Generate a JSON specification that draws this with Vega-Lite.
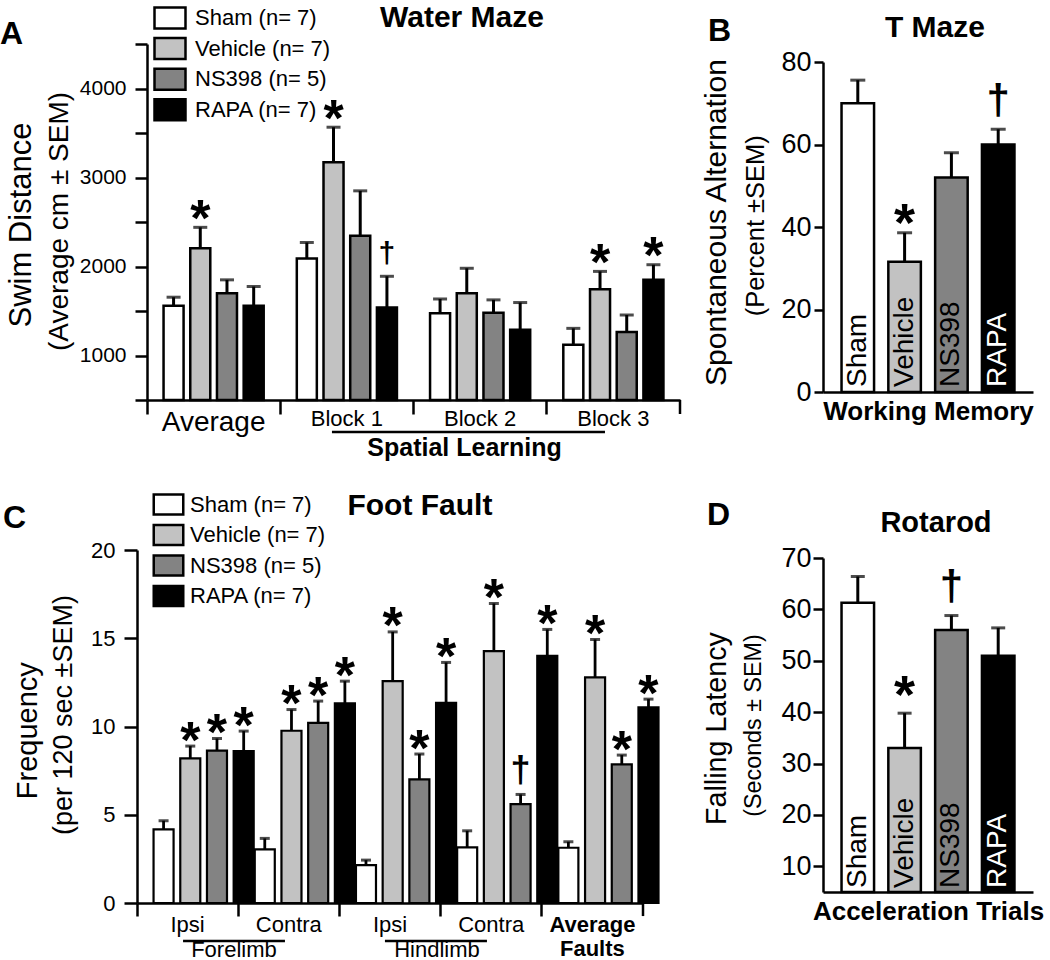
{
  "$schema": "https://vega.github.io/schema/vega-lite/v6.json",
  "padding": {"top": 2, "left": 0, "right": 0, "bottom": 0},
  "background": "white",
  "config": {
    "font": "Liberation Sans",
    "view": {"stroke": null},
    "axis": {"domainColor": "black", "tickColor": "black", "labelColor": "black", "titleColor": "black", "labelFont": "Liberation Sans", "titleFont": "Liberation Sans", "grid": false},
    "legend": {"labelFont": "Liberation Sans", "labelColor": "black"}
  },
  "datasets": {
    "maze": [
      {"group": "Average", "treatment": "Sham", "mean": 1560, "upper": 1655, "sig": ""},
      {"group": "Average", "treatment": "Vehicle", "mean": 2205, "upper": 2440, "sig": "*"},
      {"group": "Average", "treatment": "NS398", "mean": 1700, "upper": 1850, "sig": ""},
      {"group": "Average", "treatment": "RAPA", "mean": 1560, "upper": 1775, "sig": ""},
      {"group": "Block 1", "treatment": "Sham", "mean": 2090, "upper": 2270, "sig": ""},
      {"group": "Block 1", "treatment": "Vehicle", "mean": 3170, "upper": 3565, "sig": "*"},
      {"group": "Block 1", "treatment": "NS398", "mean": 2345, "upper": 2850, "sig": ""},
      {"group": "Block 1", "treatment": "RAPA", "mean": 1540, "upper": 1890, "sig": "†"},
      {"group": "Block 2", "treatment": "Sham", "mean": 1475, "upper": 1635, "sig": ""},
      {"group": "Block 2", "treatment": "Vehicle", "mean": 1700, "upper": 1980, "sig": ""},
      {"group": "Block 2", "treatment": "NS398", "mean": 1480, "upper": 1625, "sig": ""},
      {"group": "Block 2", "treatment": "RAPA", "mean": 1290, "upper": 1595, "sig": ""},
      {"group": "Block 3", "treatment": "Sham", "mean": 1120, "upper": 1305, "sig": ""},
      {"group": "Block 3", "treatment": "Vehicle", "mean": 1745, "upper": 1945, "sig": "*"},
      {"group": "Block 3", "treatment": "NS398", "mean": 1265, "upper": 1455, "sig": ""},
      {"group": "Block 3", "treatment": "RAPA", "mean": 1850, "upper": 2020, "sig": "*"}
    ],
    "tmaze": [
      {"treatment": "Sham", "mean": 70, "upper": 75.6, "sig": ""},
      {"treatment": "Vehicle", "mean": 31.6, "upper": 38.6, "sig": "*"},
      {"treatment": "NS398", "mean": 52, "upper": 58, "sig": ""},
      {"treatment": "RAPA", "mean": 60, "upper": 63.7, "sig": "†"}
    ],
    "foot": [
      {"group": "Fore Ipsi", "treatment": "Sham", "mean": 4.17, "upper": 4.66, "sig": ""},
      {"group": "Fore Ipsi", "treatment": "Vehicle", "mean": 8.19, "upper": 8.89, "sig": "*"},
      {"group": "Fore Ipsi", "treatment": "NS398", "mean": 8.63, "upper": 9.32, "sig": "*"},
      {"group": "Fore Ipsi", "treatment": "RAPA", "mean": 8.6, "upper": 9.74, "sig": "*"},
      {"group": "Fore Contra", "treatment": "Sham", "mean": 3.04, "upper": 3.66, "sig": ""},
      {"group": "Fore Contra", "treatment": "Vehicle", "mean": 9.76, "upper": 10.96, "sig": "*"},
      {"group": "Fore Contra", "treatment": "NS398", "mean": 10.21, "upper": 11.44, "sig": "*"},
      {"group": "Fore Contra", "treatment": "RAPA", "mean": 11.31, "upper": 12.57, "sig": "*"},
      {"group": "Hind Ipsi", "treatment": "Sham", "mean": 2.15, "upper": 2.43, "sig": ""},
      {"group": "Hind Ipsi", "treatment": "Vehicle", "mean": 12.57, "upper": 15.36, "sig": "*"},
      {"group": "Hind Ipsi", "treatment": "NS398", "mean": 7.0, "upper": 8.44, "sig": "*"},
      {"group": "Hind Ipsi", "treatment": "RAPA", "mean": 11.34, "upper": 13.63, "sig": "*"},
      {"group": "Hind Contra", "treatment": "Sham", "mean": 3.15, "upper": 4.09, "sig": ""},
      {"group": "Hind Contra", "treatment": "Vehicle", "mean": 14.27, "upper": 16.97, "sig": "*"},
      {"group": "Hind Contra", "treatment": "NS398", "mean": 5.6, "upper": 6.15, "sig": "†"},
      {"group": "Hind Contra", "treatment": "RAPA", "mean": 14.0, "upper": 15.5, "sig": "*"},
      {"group": "Average Faults", "treatment": "Sham", "mean": 3.13, "upper": 3.47, "sig": ""},
      {"group": "Average Faults", "treatment": "Vehicle", "mean": 12.78, "upper": 14.93, "sig": "*"},
      {"group": "Average Faults", "treatment": "NS398", "mean": 7.85, "upper": 8.38, "sig": "*"},
      {"group": "Average Faults", "treatment": "RAPA", "mean": 11.08, "upper": 11.55, "sig": "*"}
    ],
    "rotarod": [
      {"treatment": "Sham", "mean": 61.3, "upper": 66.4, "sig": ""},
      {"treatment": "Vehicle", "mean": 33, "upper": 39.8, "sig": "*"},
      {"treatment": "NS398", "mean": 56, "upper": 58.8, "sig": "†"},
      {"treatment": "RAPA", "mean": 51, "upper": 56.4, "sig": ""}
    ]
  },
  "resolve": {"scale": {"fill": "independent"}, "legend": {"fill": "independent"}},
  "spacing": 20,
  "hconcat": [
    {
      "spacing": 30,
      "resolve": {"scale": {"fill": "independent"}, "legend": {"fill": "independent"}},
      "vconcat": [
        {
          "width": 533,
          "height": 356,
          "resolve": {"scale": {"x": "independent"}, "axis": {"x": "independent"}},
          "layer": [
            {
              "data": {"name": "maze"},
              "layer": [
                {
                  "mark": {"type": "bar", "stroke": "black", "strokeWidth": 2.5},
                  "encoding": {
                    "x": {"field": "group", "type": "nominal", "sort": ["Average", "Block 1", "Block 2", "Block 3"], "scale": {"paddingInner": 0, "paddingOuter": 0},
                      "axis": {"title": null, "bandPosition": 0, "tickSize": 14, "tickWidth": 2.5, "domainWidth": 2.5, "labelPadding": -6, "labelAngle": 0, "labelBaseline": "top", "labelFontSize": {"condition": {"test": "datum.value === 'Average'", "value": 28}, "value": 22}, "labelOverlap": false, "labelBound": false, "labelFlush": false}},
                    "xOffset": {"field": "treatment", "type": "nominal", "sort": ["Sham", "Vehicle", "NS398", "RAPA"], "scale": {"paddingInner": 0.25, "paddingOuter": 0.62}},
                    "y": {"field": "mean", "type": "quantitative", "scale": {"domain": [500, 4500], "nice": false, "zero": false},
                      "axis": {"title": null, "values": [500, 1000, 1500, 2000, 2500, 3000, 3500, 4000, 4500], "format": "d", "labelExpr": "datum.value % 1000 === 0 ? datum.label : ''", "tickSize": 12, "tickWidth": 2.5, "domainWidth": 2.5, "labelFontSize": 21, "labelPadding": 9}},
                    "y2": {"datum": 500},
                    "fill": {"field": "treatment", "type": "nominal", "sort": ["Sham", "Vehicle", "NS398", "RAPA"], "scale": {"domain": ["Sham", "Vehicle", "NS398", "RAPA"], "range": ["#ffffff", "#c2c2c2", "#838383", "#000000"]},
                      "legend": {"orient": "none", "legendX": 11, "legendY": -38, "title": null, "direction": "vertical", "symbolType": "M-1.476,-1H1.476V1H-1.476Z", "symbolSize": 441, "symbolStrokeColor": "black", "symbolStrokeWidth": 2.5, "symbolOpacity": 1, "labelFontSize": 22, "labelOffset": 13, "rowPadding": -1.4, "padding": 0, "labelExpr": "datum.label === 'NS398' ? 'NS398 (n= 5)' : datum.label + ' (n= 7)'"}}
                  }
                },
                {
                  "mark": {"type": "rule", "color": "black", "strokeWidth": 3},
                  "encoding": {
                    "x": {"field": "group", "type": "nominal", "sort": ["Average", "Block 1", "Block 2", "Block 3"], "title": null},
                    "xOffset": {"field": "treatment", "type": "nominal", "sort": ["Sham", "Vehicle", "NS398", "RAPA"]},
                    "y": {"field": "mean", "type": "quantitative", "title": null},
                    "y2": {"field": "upper"}
                  }
                },
                {
                  "mark": {"type": "tick", "color": "black", "thickness": 3, "size": 14},
                  "encoding": {
                    "x": {"field": "group", "type": "nominal", "sort": ["Average", "Block 1", "Block 2", "Block 3"], "title": null},
                    "xOffset": {"field": "treatment", "type": "nominal", "sort": ["Sham", "Vehicle", "NS398", "RAPA"]},
                    "y": {"field": "upper", "type": "quantitative", "title": null}
                  }
                },
                {
                  "transform": [{"filter": "datum.sig === '*'"}],
                  "mark": {"type": "text", "text": "*", "fontSize": 52, "fontWeight": "bold", "baseline": "alphabetic", "dy": 8.5, "color": "black"},
                  "encoding": {
                    "x": {"field": "group", "type": "nominal", "sort": ["Average", "Block 1", "Block 2", "Block 3"], "title": null},
                    "xOffset": {"field": "treatment", "type": "nominal", "sort": ["Sham", "Vehicle", "NS398", "RAPA"]},
                    "y": {"field": "upper", "type": "quantitative", "title": null}
                  }
                },
                {
                  "transform": [{"filter": "datum.sig === '†'"}],
                  "mark": {"type": "text", "text": "†", "fontSize": 30, "fontWeight": "bold", "baseline": "alphabetic", "dy": -13, "color": "black"},
                  "encoding": {
                    "x": {"field": "group", "type": "nominal", "sort": ["Average", "Block 1", "Block 2", "Block 3"], "title": null},
                    "xOffset": {"field": "treatment", "type": "nominal", "sort": ["Sham", "Vehicle", "NS398", "RAPA"]},
                    "y": {"field": "upper", "type": "quantitative", "title": null}
                  }
                }
              ]
            },
            {
              "data": {"values": [{}]},
              "layer": [
                {
                  "mark": {"type": "text", "text": "A", "fontSize": 32, "fontWeight": "bold", "align": "left", "baseline": "alphabetic", "clip": false, "color": "black"},
                  "encoding": {"x": {"datum": -1.103, "type": "quantitative", "scale": {"domain": [0, 4], "nice": false, "zero": false}, "axis": null}, "y": {"datum": 4500, "type": "quantitative", "title": null}}
                },
                {
                  "mark": {"type": "text", "text": "Water Maze", "fontSize": 30, "fontWeight": "bold", "align": "center", "baseline": "alphabetic", "clip": false, "color": "black"},
                  "encoding": {"x": {"datum": 2.364, "type": "quantitative", "scale": {"domain": [0, 4], "nice": false, "zero": false}, "axis": null}, "y": {"datum": 4694, "type": "quantitative", "title": null}}
                },
                {
                  "mark": {"type": "text", "text": "Spatial Learning", "fontSize": 25, "fontWeight": "bold", "align": "center", "baseline": "alphabetic", "clip": false, "color": "black"},
                  "encoding": {"x": {"datum": 2.383, "type": "quantitative", "scale": {"domain": [0, 4], "nice": false, "zero": false}, "axis": null}, "y": {"datum": -129, "type": "quantitative", "title": null}}
                },
                {
                  "mark": {"type": "rule", "color": "black", "strokeWidth": 2.5, "clip": false},
                  "encoding": {"x": {"datum": 1.388, "type": "quantitative", "scale": {"domain": [0, 4], "nice": false, "zero": false}, "axis": null}, "x2": {"datum": 3.437}, "y": {"datum": 140, "type": "quantitative", "title": null}}
                },
                {
                  "mark": {"type": "rule", "color": "black", "strokeWidth": 2.5, "clip": false},
                  "encoding": {"x": {"datum": 4, "type": "quantitative", "scale": {"domain": [0, 4], "nice": false, "zero": false}, "axis": null}, "y": {"datum": 500, "type": "quantitative", "title": null}, "y2": {"datum": 343}}
                },
                {
                  "mark": {"type": "text", "text": "Swim Distance", "fontSize": 31, "angle": 270, "align": "center", "baseline": "middle", "clip": false, "color": "black"},
                  "encoding": {"x": {"datum": -0.94, "type": "quantitative", "scale": {"domain": [0, 4], "nice": false, "zero": false}, "axis": null}, "y": {"datum": 2466, "type": "quantitative", "title": null}}
                },
                {
                  "mark": {"type": "text", "text": "(Average cm ± SEM)", "fontSize": 28, "angle": 270, "align": "center", "baseline": "middle", "clip": false, "color": "black"},
                  "encoding": {"x": {"datum": -0.656, "type": "quantitative", "scale": {"domain": [0, 4], "nice": false, "zero": false}, "axis": null}, "y": {"datum": 2506, "type": "quantitative", "title": null}}
                }
              ]
            }
          ]
        },
        {
          "width": 496,
          "height": 353,
          "resolve": {"scale": {"x": "independent"}, "axis": {"x": "independent"}},
          "layer": [
            {
              "data": {"name": "foot"},
              "layer": [
                {
                  "mark": {"type": "bar", "stroke": "black", "strokeWidth": 2.2},
                  "encoding": {
                    "x": {"field": "group", "type": "nominal", "sort": ["Fore Ipsi", "Fore Contra", "Hind Ipsi", "Hind Contra", "Average Faults"], "scale": {"paddingInner": 0, "paddingOuter": 0, "range": [-10, 496]},
                      "axis": {"title": null, "bandPosition": 0, "tickSize": 13, "tickWidth": 2.5, "domainWidth": 2.5, "labelPadding": -2, "labelAngle": 0, "labelBaseline": "top", "labelFontSize": 22, "labelLineHeight": 24, "labelExpr": "datum.value === 'Average Faults' ? ['Average', 'Faults'] : split(datum.value, ' ')[1]", "labelFontWeight": {"condition": {"test": "datum.value === 'Average Faults'", "value": "bold"}, "value": "normal"}, "labelOverlap": false, "labelBound": false, "labelFlush": false}},
                    "xOffset": {"field": "treatment", "type": "nominal", "sort": ["Sham", "Vehicle", "NS398", "RAPA"], "scale": {"paddingInner": 0.25, "paddingOuter": 0.62}},
                    "y": {"field": "mean", "type": "quantitative", "scale": {"domain": [0, 20], "nice": false},
                      "axis": {"title": null, "values": [0, 5, 10, 15, 20], "tickSize": 13, "tickWidth": 2.5, "domainWidth": 2.5, "labelFontSize": 22, "labelPadding": 9, "offset": 10}},
                    "y2": {"datum": 0},
                    "fill": {"field": "treatment", "type": "nominal", "sort": ["Sham", "Vehicle", "NS398", "RAPA"], "scale": {"domain": ["Sham", "Vehicle", "NS398", "RAPA"], "range": ["#ffffff", "#c2c2c2", "#838383", "#000000"]},
                      "legend": {"orient": "none", "legendX": 10, "legendY": -57, "title": null, "direction": "vertical", "symbolType": "M-1.476,-1H1.476V1H-1.476Z", "symbolSize": 400, "symbolStrokeColor": "black", "symbolStrokeWidth": 2.5, "symbolOpacity": 1, "labelFontSize": 22, "labelOffset": 10, "rowPadding": -0.5, "padding": 0, "labelExpr": "datum.label === 'NS398' ? 'NS398 (n= 5)' : datum.label + ' (n= 7)'"}}
                  }
                },
                {
                  "mark": {"type": "rule", "color": "black", "strokeWidth": 2.8},
                  "encoding": {
                    "x": {"field": "group", "type": "nominal", "sort": ["Fore Ipsi", "Fore Contra", "Hind Ipsi", "Hind Contra", "Average Faults"], "title": null},
                    "xOffset": {"field": "treatment", "type": "nominal", "sort": ["Sham", "Vehicle", "NS398", "RAPA"]},
                    "y": {"field": "mean", "type": "quantitative", "title": null},
                    "y2": {"field": "upper"}
                  }
                },
                {
                  "mark": {"type": "tick", "color": "black", "thickness": 3, "size": 10},
                  "encoding": {
                    "x": {"field": "group", "type": "nominal", "sort": ["Fore Ipsi", "Fore Contra", "Hind Ipsi", "Hind Contra", "Average Faults"], "title": null},
                    "xOffset": {"field": "treatment", "type": "nominal", "sort": ["Sham", "Vehicle", "NS398", "RAPA"]},
                    "y": {"field": "upper", "type": "quantitative", "title": null}
                  }
                },
                {
                  "transform": [{"filter": "datum.sig === '*'"}],
                  "mark": {"type": "text", "text": "*", "fontSize": 52, "fontWeight": "bold", "baseline": "alphabetic", "dy": 11.5, "color": "black"},
                  "encoding": {
                    "x": {"field": "group", "type": "nominal", "sort": ["Fore Ipsi", "Fore Contra", "Hind Ipsi", "Hind Contra", "Average Faults"], "title": null},
                    "xOffset": {"field": "treatment", "type": "nominal", "sort": ["Sham", "Vehicle", "NS398", "RAPA"]},
                    "y": {"field": "upper", "type": "quantitative", "title": null}
                  }
                },
                {
                  "transform": [{"filter": "datum.sig === '†'"}],
                  "mark": {"type": "text", "text": "†", "fontSize": 36, "fontWeight": "bold", "baseline": "alphabetic", "dy": -12.5, "color": "black"},
                  "encoding": {
                    "x": {"field": "group", "type": "nominal", "sort": ["Fore Ipsi", "Fore Contra", "Hind Ipsi", "Hind Contra", "Average Faults"], "title": null},
                    "xOffset": {"field": "treatment", "type": "nominal", "sort": ["Sham", "Vehicle", "NS398", "RAPA"]},
                    "y": {"field": "upper", "type": "quantitative", "title": null}
                  }
                }
              ]
            },
            {
              "data": {"values": [{}]},
              "layer": [
                {
                  "mark": {"type": "text", "text": "C", "fontSize": 32, "fontWeight": "bold", "align": "left", "baseline": "alphabetic", "clip": false, "color": "black"},
                  "encoding": {"x": {"datum": -1.324, "type": "quantitative", "scale": {"domain": [0, 5], "range": [-10, 496], "nice": false, "zero": false}, "axis": null}, "y": {"datum": 21.25, "type": "quantitative", "title": null}}
                },
                {
                  "mark": {"type": "text", "text": "Foot Fault", "fontSize": 30, "fontWeight": "bold", "align": "center", "baseline": "alphabetic", "clip": false, "color": "black"},
                  "encoding": {"x": {"datum": 2.796, "type": "quantitative", "scale": {"domain": [0, 5], "range": [-10, 496], "nice": false, "zero": false}, "axis": null}, "y": {"datum": 21.98, "type": "quantitative", "title": null}}
                },
                {
                  "mark": {"type": "rule", "color": "black", "strokeWidth": 2.5, "clip": false},
                  "encoding": {"x": {"datum": 0.455, "type": "quantitative", "scale": {"domain": [0, 5], "range": [-10, 496], "nice": false, "zero": false}, "axis": null}, "x2": {"datum": 1.462}, "y": {"datum": -2.15, "type": "quantitative", "title": null}}
                },
                {
                  "mark": {"type": "rule", "color": "black", "strokeWidth": 2.5, "clip": false},
                  "encoding": {"x": {"datum": 2.45, "type": "quantitative", "scale": {"domain": [0, 5], "range": [-10, 496], "nice": false, "zero": false}, "axis": null}, "x2": {"datum": 3.458}, "y": {"datum": -2.15, "type": "quantitative", "title": null}}
                },
                {
                  "mark": {"type": "text", "text": "Forelimb", "fontSize": 22, "align": "center", "baseline": "alphabetic", "clip": false, "color": "black"},
                  "encoding": {"x": {"datum": 0.958, "type": "quantitative", "scale": {"domain": [0, 5], "range": [-10, 496], "nice": false, "zero": false}, "axis": null}, "y": {"datum": -3.05, "type": "quantitative", "title": null}}
                },
                {
                  "mark": {"type": "text", "text": "Hindlimb", "fontSize": 22, "align": "center", "baseline": "alphabetic", "clip": false, "color": "black"},
                  "encoding": {"x": {"datum": 2.964, "type": "quantitative", "scale": {"domain": [0, 5], "range": [-10, 496], "nice": false, "zero": false}, "axis": null}, "y": {"datum": -3.05, "type": "quantitative", "title": null}}
                },
                {
                  "mark": {"type": "rule", "color": "black", "strokeWidth": 2.5, "clip": false},
                  "encoding": {"x": {"datum": 5, "type": "quantitative", "scale": {"domain": [0, 5], "range": [-10, 496], "nice": false, "zero": false}, "axis": null}, "y": {"datum": 0, "type": "quantitative", "title": null}, "y2": {"datum": -0.74}}
                },
                {
                  "mark": {"type": "text", "text": "Frequency", "fontSize": 29, "angle": 270, "align": "center", "baseline": "middle", "clip": false, "color": "black"},
                  "encoding": {"x": {"datum": -1.077, "type": "quantitative", "scale": {"domain": [0, 5], "range": [-10, 496], "nice": false, "zero": false}, "axis": null}, "y": {"datum": 9.76, "type": "quantitative", "title": null}}
                },
                {
                  "mark": {"type": "text", "text": "(per 120 sec ±SEM)", "fontSize": 27, "angle": 270, "align": "center", "baseline": "middle", "clip": false, "color": "black"},
                  "encoding": {"x": {"datum": -0.721, "type": "quantitative", "scale": {"domain": [0, 5], "range": [-10, 496], "nice": false, "zero": false}, "axis": null}, "y": {"datum": 10.65, "type": "quantitative", "title": null}}
                }
              ]
            }
          ]
        }
      ]
    },
    {
      "spacing": 75,
      "resolve": {"scale": {"fill": "independent"}, "legend": {"fill": "independent"}},
      "vconcat": [
        {
          "width": 210,
          "height": 348,
          "resolve": {"scale": {"x": "independent"}, "axis": {"x": "independent"}},
          "layer": [
            {
              "data": {"name": "tmaze"},
              "layer": [
                {
                  "mark": {"type": "bar", "stroke": "black", "strokeWidth": 2.5},
                  "encoding": {
                    "x": {"field": "treatment", "type": "nominal", "sort": ["Sham", "Vehicle", "NS398", "RAPA"], "title": "Working Memory", "scale": {"paddingInner": 0.305, "paddingOuter": 0.396},
                      "axis": {"labels": false, "ticks": false, "title": "Working Memory", "titleFontSize": 26, "titleFontWeight": "bold", "titlePadding": 6, "domainWidth": 2.5}},
                    "y": {"field": "mean", "type": "quantitative", "scale": {"domain": [0, 80], "range": [348, 18], "nice": false},
                      "axis": {"title": null, "values": [0, 20, 40, 60, 80], "tickSize": 9, "tickWidth": 2.5, "domainWidth": 2.5, "labelFontSize": 27, "labelPadding": 3}},
                    "y2": {"datum": 0},
                    "fill": {"field": "treatment", "type": "nominal", "scale": {"domain": ["Sham", "Vehicle", "NS398", "RAPA"], "range": ["#ffffff", "#c2c2c2", "#838383", "#000000"]}, "legend": null}
                  }
                },
                {
                  "mark": {"type": "rule", "color": "black", "strokeWidth": 3},
                  "encoding": {
                    "x": {"field": "treatment", "type": "nominal", "sort": ["Sham", "Vehicle", "NS398", "RAPA"], "title": "Working Memory"},
                    "y": {"field": "mean", "type": "quantitative", "title": null},
                    "y2": {"field": "upper"}
                  }
                },
                {
                  "mark": {"type": "tick", "color": "black", "thickness": 3, "size": 15},
                  "encoding": {
                    "x": {"field": "treatment", "type": "nominal", "sort": ["Sham", "Vehicle", "NS398", "RAPA"], "title": "Working Memory"},
                    "y": {"field": "upper", "type": "quantitative", "title": null}
                  }
                },
                {
                  "transform": [{"filter": "datum.sig === '*'"}],
                  "mark": {"type": "text", "text": "*", "fontSize": 54, "fontWeight": "bold", "baseline": "alphabetic", "dy": 8, "color": "black"},
                  "encoding": {
                    "x": {"field": "treatment", "type": "nominal", "sort": ["Sham", "Vehicle", "NS398", "RAPA"], "title": "Working Memory"},
                    "y": {"field": "upper", "type": "quantitative", "title": null}
                  }
                },
                {
                  "transform": [{"filter": "datum.sig === '†'"}],
                  "mark": {"type": "text", "text": "†", "fontSize": 42, "fontWeight": "bold", "baseline": "alphabetic", "dy": -15.5, "color": "black"},
                  "encoding": {
                    "x": {"field": "treatment", "type": "nominal", "sort": ["Sham", "Vehicle", "NS398", "RAPA"], "title": "Working Memory"},
                    "y": {"field": "upper", "type": "quantitative", "title": null}
                  }
                },
                {
                  "mark": {"type": "text", "angle": 270, "align": "left", "baseline": "middle", "dx": 5, "fontSize": 28},
                  "encoding": {
                    "x": {"field": "treatment", "type": "nominal", "sort": ["Sham", "Vehicle", "NS398", "RAPA"], "title": "Working Memory"},
                    "y": {"datum": 0, "type": "quantitative", "title": null},
                    "text": {"field": "treatment"},
                    "color": {"condition": {"test": "datum.treatment === 'RAPA'", "value": "white"}, "value": "black"}
                  }
                }
              ]
            },
            {
              "data": {"values": [{}]},
              "layer": [
                {
                  "mark": {"type": "text", "text": "B", "fontSize": 32, "fontWeight": "bold", "align": "left", "baseline": "alphabetic", "clip": false, "color": "black"},
                  "encoding": {"x": {"datum": -0.548, "type": "quantitative", "scale": {"domain": [0, 1], "nice": false, "zero": false}, "axis": null}, "y": {"datum": 85.1, "type": "quantitative", "title": null}}
                },
                {
                  "mark": {"type": "text", "text": "T Maze", "fontSize": 30, "fontWeight": "bold", "align": "center", "baseline": "alphabetic", "clip": false, "color": "black"},
                  "encoding": {"x": {"datum": 0.533, "type": "quantitative", "scale": {"domain": [0, 1], "nice": false, "zero": false}, "axis": null}, "y": {"datum": 86.0, "type": "quantitative", "title": null}}
                },
                {
                  "mark": {"type": "text", "text": "Spontaneous Alternation", "fontSize": 30, "angle": 270, "align": "center", "baseline": "middle", "clip": false, "color": "black"},
                  "encoding": {"x": {"datum": -0.503, "type": "quantitative", "scale": {"domain": [0, 1], "nice": false, "zero": false}, "axis": null}, "y": {"datum": 41.1, "type": "quantitative", "title": null}}
                },
                {
                  "mark": {"type": "text", "text": "(Percent ±SEM)", "fontSize": 25.5, "angle": 270, "align": "center", "baseline": "middle", "clip": false, "color": "black"},
                  "encoding": {"x": {"datum": -0.321, "type": "quantitative", "scale": {"domain": [0, 1], "nice": false, "zero": false}, "axis": null}, "y": {"datum": 40.3, "type": "quantitative", "title": null}}
                }
              ]
            }
          ]
        },
        {
          "width": 210,
          "height": 334,
          "resolve": {"scale": {"x": "independent"}, "axis": {"x": "independent"}},
          "layer": [
            {
              "data": {"name": "rotarod"},
              "layer": [
                {
                  "mark": {"type": "bar", "stroke": "black", "strokeWidth": 2.5},
                  "encoding": {
                    "x": {"field": "treatment", "type": "nominal", "sort": ["Sham", "Vehicle", "NS398", "RAPA"], "title": "Acceleration Trials", "scale": {"paddingInner": 0.305, "paddingOuter": 0.396},
                      "axis": {"labels": false, "ticks": false, "title": "Acceleration Trials", "titleFontSize": 26, "titleFontWeight": "bold", "titlePadding": 6, "domainWidth": 2.5}},
                    "y": {"field": "mean", "type": "quantitative", "scale": {"domain": [5, 70], "nice": false, "zero": false},
                      "axis": {"title": null, "values": [10, 20, 30, 40, 50, 60, 70], "tickSize": 10, "tickWidth": 2.5, "domainWidth": 2.5, "labelFontSize": 27, "labelPadding": 2}},
                    "y2": {"datum": 5},
                    "fill": {"field": "treatment", "type": "nominal", "scale": {"domain": ["Sham", "Vehicle", "NS398", "RAPA"], "range": ["#ffffff", "#c2c2c2", "#838383", "#000000"]}, "legend": null}
                  }
                },
                {
                  "mark": {"type": "rule", "color": "black", "strokeWidth": 3},
                  "encoding": {
                    "x": {"field": "treatment", "type": "nominal", "sort": ["Sham", "Vehicle", "NS398", "RAPA"], "title": "Acceleration Trials"},
                    "y": {"field": "mean", "type": "quantitative", "title": null},
                    "y2": {"field": "upper"}
                  }
                },
                {
                  "mark": {"type": "tick", "color": "black", "thickness": 3, "size": 14},
                  "encoding": {
                    "x": {"field": "treatment", "type": "nominal", "sort": ["Sham", "Vehicle", "NS398", "RAPA"], "title": "Acceleration Trials"},
                    "y": {"field": "upper", "type": "quantitative", "title": null}
                  }
                },
                {
                  "transform": [{"filter": "datum.sig === '*'"}],
                  "mark": {"type": "text", "text": "*", "fontSize": 54, "fontWeight": "bold", "baseline": "alphabetic", "dy": 0, "color": "black"},
                  "encoding": {
                    "x": {"field": "treatment", "type": "nominal", "sort": ["Sham", "Vehicle", "NS398", "RAPA"], "title": "Acceleration Trials"},
                    "y": {"field": "upper", "type": "quantitative", "title": null}
                  }
                },
                {
                  "transform": [{"filter": "datum.sig === '†'"}],
                  "mark": {"type": "text", "text": "†", "fontSize": 42, "fontWeight": "bold", "baseline": "alphabetic", "dy": -15.5, "color": "black"},
                  "encoding": {
                    "x": {"field": "treatment", "type": "nominal", "sort": ["Sham", "Vehicle", "NS398", "RAPA"], "title": "Acceleration Trials"},
                    "y": {"field": "upper", "type": "quantitative", "title": null}
                  }
                },
                {
                  "mark": {"type": "text", "angle": 270, "align": "left", "baseline": "middle", "dx": 4, "fontSize": 28},
                  "encoding": {
                    "x": {"field": "treatment", "type": "nominal", "sort": ["Sham", "Vehicle", "NS398", "RAPA"], "title": "Acceleration Trials"},
                    "y": {"datum": 5, "type": "quantitative", "title": null},
                    "text": {"field": "treatment"},
                    "color": {"condition": {"test": "datum.treatment === 'RAPA'", "value": "white"}, "value": "black"}
                  }
                }
              ]
            },
            {
              "data": {"values": [{}]},
              "layer": [
                {
                  "mark": {"type": "text", "text": "D", "fontSize": 32, "fontWeight": "bold", "align": "left", "baseline": "alphabetic", "clip": false, "color": "black"},
                  "encoding": {"x": {"datum": -0.552, "type": "quantitative", "scale": {"domain": [0, 1], "nice": false, "zero": false}, "axis": null}, "y": {"datum": 76.4, "type": "quantitative", "title": null}}
                },
                {
                  "mark": {"type": "text", "text": "Rotarod", "fontSize": 29, "fontWeight": "bold", "align": "center", "baseline": "alphabetic", "clip": false, "color": "black"},
                  "encoding": {"x": {"datum": 0.538, "type": "quantitative", "scale": {"domain": [0, 1], "nice": false, "zero": false}, "axis": null}, "y": {"datum": 75.06, "type": "quantitative", "title": null}}
                },
                {
                  "mark": {"type": "text", "text": "Falling Latency", "fontSize": 28.7, "angle": 270, "align": "center", "baseline": "middle", "clip": false, "color": "black"},
                  "encoding": {"x": {"datum": -0.505, "type": "quantitative", "scale": {"domain": [0, 1], "nice": false, "zero": false}, "axis": null}, "y": {"datum": 36.8, "type": "quantitative", "title": null}}
                },
                {
                  "mark": {"type": "text", "text": "(Seconds ± SEM)", "fontSize": 23.3, "angle": 270, "align": "center", "baseline": "middle", "clip": false, "color": "black"},
                  "encoding": {"x": {"datum": -0.329, "type": "quantitative", "scale": {"domain": [0, 1], "nice": false, "zero": false}, "axis": null}, "y": {"datum": 37.4, "type": "quantitative", "title": null}}
                }
              ]
            }
          ]
        }
      ]
    }
  ]
}
